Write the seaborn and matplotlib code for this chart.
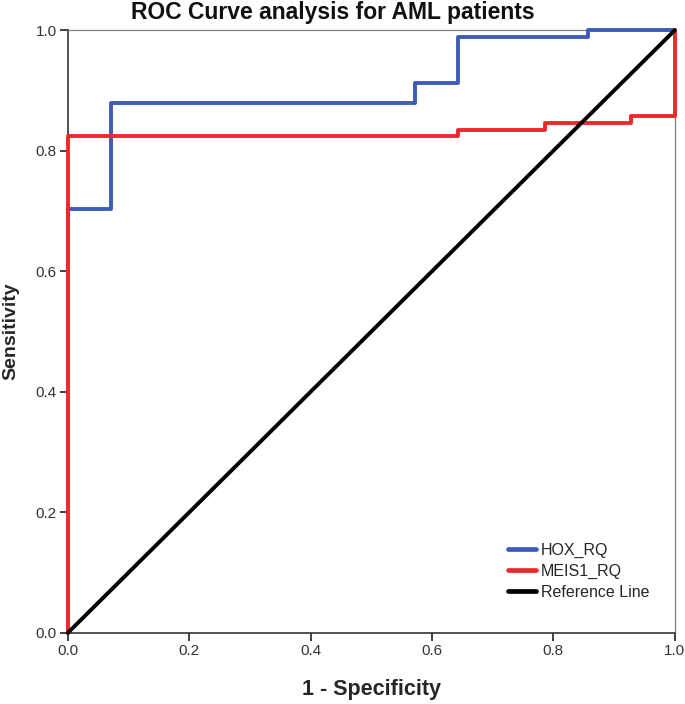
import numpy as np
import pandas as pd
import matplotlib
matplotlib.use("Agg")
import matplotlib.pyplot as plt
import seaborn as sns

# ROC step coordinates (14 negatives, 91 positives)
hox_fpr = [0.0, 0.0, 0.0714, 0.0714, 0.5714, 0.5714, 0.6429, 0.6429, 0.8571, 0.8571, 1.0]
hox_tpr = [0.0, 0.703, 0.703, 0.879, 0.879, 0.912, 0.912, 0.989, 0.989, 1.0, 1.0]

meis_fpr = [0.0, 0.0, 0.6429, 0.6429, 0.7857, 0.7857, 0.9286, 0.9286, 1.0, 1.0]
meis_tpr = [0.0, 0.824, 0.824, 0.835, 0.835, 0.846, 0.846, 0.857, 0.857, 1.0]

ref_fpr = [0.0, 1.0]
ref_tpr = [0.0, 1.0]

names = ["HOX_RQ", "MEIS1_RQ", "Reference Line"]
colors = ["#3d5cba", "#f0282d", "#000000"]

df = pd.concat([
    pd.DataFrame({"fpr": hox_fpr, "tpr": hox_tpr, "curve": names[0]}),
    pd.DataFrame({"fpr": meis_fpr, "tpr": meis_tpr, "curve": names[1]}),
    pd.DataFrame({"fpr": ref_fpr, "tpr": ref_tpr, "curve": names[2]}),
], ignore_index=True)

sns.set_style("white")
plt.rcParams['font.family'] = ['Liberation Sans', 'DejaVu Sans']

fig = plt.figure(figsize=(6.85, 7.04), dpi=100)
ax = fig.add_axes([0.099, 0.101, 0.886, 0.856])

sns.lineplot(data=df, x="fpr", y="tpr", hue="curve", hue_order=names,
             palette=colors, sort=False, estimator=None, linewidth=2.8,
             ax=ax, legend=True)
# curves sit on top of the frame, like the original
for ln in ax.get_lines():
    ln.set_zorder(3)
    ln.set_clip_on(False)

ax.set_xlim(0, 1)
ax.set_ylim(0, 1)
ticks = [0.0, 0.2, 0.4, 0.6, 0.8, 1.0]
ax.set_xticks(ticks)
ax.set_yticks(ticks)
ax.set_xticklabels([f"{t:.1f}" for t in ticks], fontsize=11, color="#333333")
ax.set_yticklabels([f"{t:.1f}" for t in ticks], fontsize=11, color="#333333")
ax.tick_params(axis="both", direction="out", length=6, width=1.3,
               color="#333333", bottom=True, left=True, pad=2)

for s in ["left", "bottom"]:
    ax.spines[s].set_color("#333333")
    ax.spines[s].set_linewidth(1.2)
for s in ["top", "right"]:
    ax.spines[s].set_color("#808080")
    ax.spines[s].set_linewidth(0.9)

ax.set_xlabel("1 - Specificity", fontsize=15.5, fontweight="bold")
ax.set_ylabel("Sensitivity", fontsize=14, fontweight="bold")
ax.xaxis.set_label_coords(0.5, -0.077)
ax.yaxis.set_label_coords(-0.080, 0.5)
fig.text(0.486, 1 - 19 / 704, "ROC Curve analysis for AML patients",
         fontsize=16.5, fontweight="bold", ha="center", va="baseline",
         color="#111111")

leg = ax.legend(loc="upper left", bbox_to_anchor=(0.726, 0.150), frameon=False,
                fontsize=11.5, handlelength=1.7, handletextpad=0.35,
                labelspacing=0.38, borderaxespad=0, borderpad=0)
for line in leg.get_lines():
    line.set_linewidth(3.4)

fig.savefig("out.png", dpi=100)
